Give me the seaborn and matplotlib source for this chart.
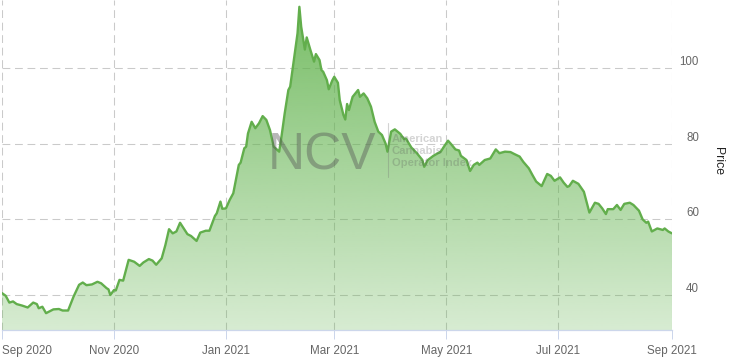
import numpy as np
import pandas as pd
import matplotlib
matplotlib.use("Agg")
import matplotlib.pyplot as plt
import matplotlib.dates as mdates
from matplotlib.transforms import blended_transform_factory, ScaledTranslation
from matplotlib.lines import Line2D
import seaborn as sns

# ---------------- data ----------------
start_date = "2020-09-01"
day_offset = [0, 2, 4, 6, 8, 11, 14, 17, 19, 20, 22, 24, 28, 31, 33, 36, 39, 42, 44, 46,
              49, 52, 54, 57, 58, 59, 61, 62, 64, 66, 69, 72, 75, 77, 80, 82, 84, 87, 89, 91,
              93, 95, 97, 99, 101, 103, 106, 108, 111, 113, 116, 117, 119, 120, 122, 124, 126, 129, 130, 132,
              133, 134, 136, 138, 140, 142, 144, 146, 148, 149, 151, 152, 154, 156, 157, 159, 161, 162, 163, 165,
              166, 168, 170, 171, 173, 174, 175, 177, 178, 180, 181, 183, 184, 186, 187, 188, 189, 191, 194, 195,
              197, 199, 201, 203, 205, 207, 209, 210, 212, 214, 217, 219, 220, 223, 226, 229, 230, 232, 235, 239,
              241, 243, 245, 247, 249, 250, 253, 255, 257, 259, 260, 263, 266, 269, 271, 274, 277, 279, 282, 284,
              287, 289, 291, 294, 297, 299, 301, 304, 306, 308, 309, 311, 314, 317, 320, 323, 325, 327, 329, 330,
              333, 335, 337, 339, 342, 344, 347, 349, 351, 352, 354, 357, 360, 361, 363, 365]
price = [40.5, 39.8, 38.0, 38.3, 37.6, 37.2, 36.7, 38.0, 37.6, 36.5, 36.9, 35.2, 36.2, 36.3, 35.9, 35.9, 39.6, 42.7, 43.3, 42.6,
         42.8, 43.5, 43.1, 41.8, 41.5, 40.0, 41.3, 41.2, 44.0, 43.8, 49.3, 48.8, 47.7, 48.6, 49.5, 49.1, 48.0, 49.7, 53.2, 57.4,
         56.3, 56.8, 59.1, 57.6, 56.1, 55.6, 54.3, 56.5, 57.0, 57.0, 60.9, 61.6, 64.7, 62.8, 62.9, 65.1, 66.9, 74.4, 75.0, 78.8,
         79.2, 82.7, 85.8, 84.1, 85.4, 87.3, 86.3, 83.6, 79.2, 78.8, 77.9, 81.0, 88.0, 94.2, 95.1, 102.1, 109.2, 116.2, 110.9, 104.9,
         108.1, 104.8, 101.7, 103.7, 102.1, 99.5, 99.0, 96.8, 94.4, 96.8, 97.7, 96.1, 91.5, 87.6, 86.4, 90.5, 88.9, 92.4, 94.2, 92.4,
         93.3, 92.0, 89.8, 85.8, 83.2, 82.3, 80.0, 77.9, 83.2, 83.8, 82.6, 81.2, 81.4, 79.0, 77.5, 75.7, 73.9, 75.7, 76.8, 77.9,
         79.4, 80.8, 79.7, 78.5, 78.2, 76.8, 75.7, 72.8, 74.4, 75.0, 74.4, 75.7, 76.1, 78.5, 77.5, 77.9, 77.8, 77.3, 76.6, 75.2,
         73.5, 71.7, 70.0, 68.8, 72.0, 71.5, 70.2, 71.1, 69.7, 68.6, 68.8, 70.2, 69.4, 67.3, 61.8, 64.4, 64.1, 62.9, 61.4, 62.7,
         62.7, 63.8, 62.5, 64.1, 64.4, 63.8, 62.3, 60.0, 59.1, 59.4, 56.8, 57.6, 57.2, 57.6, 56.8, 56.3]

tick_dates = ["2020-09-01", "2020-11-01", "2021-01-01", "2021-03-01",
              "2021-05-01", "2021-07-01", "2021-09-01"]
tick_labels = ["Sep 2020", "Nov 2020", "Jan 2021", "Mar 2021",
               "May 2021", "Jul 2021", "Sep 2021"]
y_ticks = [40, 60, 80, 100]
y_axis_title = "Price"
watermark_main = "NCV"
watermark_sub = ["American", "Cannabis", "Operator Index"]

dates = pd.Timestamp(start_date) + pd.to_timedelta(day_offset, unit="D")
df = pd.DataFrame({"date": dates, "price": price})

# ---------------- style ----------------
sns.set_theme(style="white")
plt.rcParams["font.family"] = ["Liberation Sans", "DejaVu Sans"]

W, H = 730, 364
fig = plt.figure(figsize=(W / 100, H / 100), dpi=100)
ax = fig.add_axes([2 / W, 1 - 330 / H, 670 / W, 330 / H])

ylo, yhi = 30.75, 118.0
x0 = mdates.date2num(pd.Timestamp(tick_dates[0]))
x1 = mdates.date2num(pd.Timestamp(tick_dates[-1]))

# gradient area fill
xn = mdates.date2num(df["date"])
poly = ax.fill_between(xn, df["price"], ylo, color="none", lw=0)
clip = poly.get_paths()[0]
n = 256
base = np.array([100, 180, 80]) / 255.0
rgba = np.zeros((n, 1, 4))
rgba[:, 0, :3] = base
rgba[:, 0, 3] = np.linspace(0.26, 0.87, n)
im = ax.imshow(rgba, extent=[x0, x1, ylo, max(price)], origin="lower",
               aspect="auto", zorder=1.5, interpolation="bilinear")
im.set_clip_path(clip, transform=ax.transData)

# line
sns.lineplot(data=df, x="date", y="price", color="#62ae4c", lw=1.7, ax=ax, zorder=3)

ax.set_xlim(x0, x1)
ax.set_ylim(ylo, yhi)
ax.set_xlabel("")
ax.set_ylabel("")

# ticks / grid
ax.set_xticks([mdates.date2num(pd.Timestamp(d)) for d in tick_dates])
ax.set_xticklabels(tick_labels)
ax.set_yticks(y_ticks)
ax.set_yticklabels([])
ax.grid(True, color="#cacaca", lw=0.75, linestyle=(0, (7.5, 4.5)))
ax.set_axisbelow(True)
ax.tick_params(axis="x", length=6.5, width=0.72, color="#ccd6eb", pad=4.3,
               labelsize=8.4, labelcolor="#666666", direction="out", bottom=True)
ax.tick_params(axis="y", length=0, left=False, right=False)
lbls = ax.get_xticklabels()
lbls[0].set_ha("left")

for s in ["top", "left", "right"]:
    ax.spines[s].set_visible(False)
ax.spines["bottom"].set_color("#ccd6eb")
ax.spines["bottom"].set_linewidth(0.9)
ax.spines["bottom"].set_zorder(4)

# right-side y labels (above gridlines)
tr = blended_transform_factory(fig.transFigure, ax.transData)
off = ScaledTranslation(0, 3 / 100, fig.dpi_scale_trans)
for v in y_ticks:
    ax.text(699 / W, v, str(v), transform=tr + off, ha="right", va="baseline",
            fontsize=8.3, color="#666666")

fig.text(718 / W, 1 - 161 / H, y_axis_title, rotation=-90, ha="center", va="center",
         fontsize=8.8, color="#222222")

# watermark
fig.text(268 / W, 1 - 169 / H, watermark_main, fontsize=37, color="#555555",
         alpha=0.42, ha="left", va="baseline", zorder=5)
fig.add_artist(Line2D([388 / W, 388 / W], [1 - 123 / H, 1 - 177 / H],
                      color="#707070", alpha=0.3, lw=0.8))
for i, t in enumerate(watermark_sub):
    fig.text(392 / W, 1 - (142 + 12 * i) / H, t, fontsize=8.1, fontweight="bold",
             color="#555555", alpha=0.25, ha="left", va="baseline")

fig.savefig("out.png", dpi=100)
